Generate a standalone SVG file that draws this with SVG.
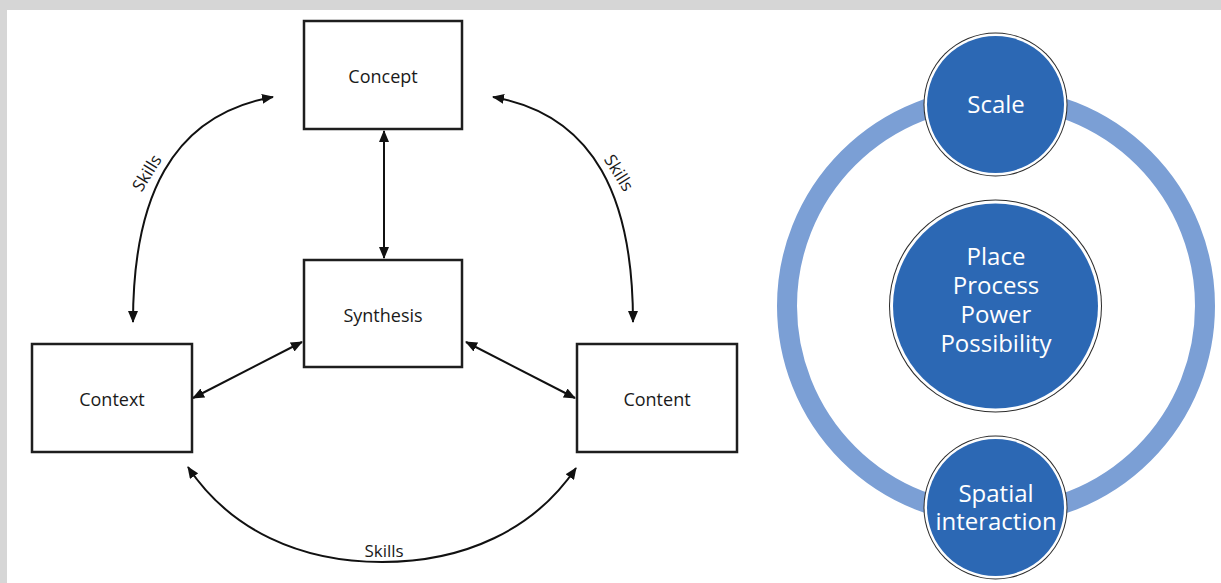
<svg xmlns="http://www.w3.org/2000/svg" width="1221" height="583" viewBox="0 0 1221 583">
<defs>
<marker id="arr" viewBox="0 0 12 10" refX="11" refY="5" markerWidth="12" markerHeight="10" markerUnits="userSpaceOnUse" orient="auto-start-reverse">
<path d="M0,0 L12,5 L0,10 z" fill="#111"/>
</marker>
<style>
.box{fill:#fff;stroke:#1e1e1e;stroke-width:2.5}
.lbl{font-family:"Open Sans","Liberation Sans",sans-serif;font-size:18px;fill:#1a1a1a;text-anchor:middle}
.sk{font-family:"Open Sans","Liberation Sans",sans-serif;font-size:17px;fill:#1a1a1a;text-anchor:middle}
.con{fill:none;stroke:#111;stroke-width:2;marker-start:url(#arr);marker-end:url(#arr)}
.edge{fill:#2a2a2a}
.rim{fill:#fff}
.disc{fill:#2c68b4}
.wt{font-family:"Open Sans","Liberation Sans",sans-serif;font-size:24px;fill:#fff;text-anchor:middle}
</style>
</defs>
<rect x="0" y="0" width="1221" height="583" fill="#fff"/>
<rect x="0" y="0" width="1221" height="10" fill="#d6d6d6"/>
<rect x="0" y="0" width="7" height="583" fill="#d6d6d6"/>

<g id="connectors">
<line class="con" x1="384" y1="131" x2="384" y2="258"/>
<line class="con" x1="193" y1="398" x2="302" y2="342"/>
<line class="con" x1="466" y1="342" x2="575" y2="398"/>
<path class="con" d="M133,322 C133,200 170,115 273,97"/>
<path class="con" d="M633,322 C633,200 596,115 493,97"/>
<path class="con" d="M188,467 C230,530 300,562 382,562 C464,562 534,530 576,468"/>
<text class="sk" transform="translate(152,176) rotate(-58)">Skills</text>
<text class="sk" transform="translate(614,176) rotate(58)">Skills</text>
<text class="sk" x="384" y="557">Skills</text>
</g>

<g id="concept">
<rect class="box" x="304" y="21" width="158" height="108"/>
<text class="lbl" x="383" y="83">Concept</text>
</g>
<g id="synthesis">
<rect class="box" x="304" y="260" width="158" height="107"/>
<text class="lbl" x="383" y="322">Synthesis</text>
</g>
<g id="context">
<rect class="box" x="32" y="344" width="160" height="108"/>
<text class="lbl" x="112" y="406">Context</text>
</g>
<g id="content">
<rect class="box" x="577" y="344" width="160" height="108"/>
<text class="lbl" x="657" y="406">Content</text>
</g>

<g id="ring">
<circle cx="996" cy="306" r="209" fill="none" stroke="#7b9fd5" stroke-width="20"/>
</g>
<g id="scale">
<circle class="edge" cx="995.5" cy="104.5" r="72"/>
<circle class="rim" cx="995.5" cy="104.5" r="71"/>
<circle class="disc" cx="995.5" cy="104.5" r="68.5"/>
<text class="wt" x="996" y="113">Scale</text>
</g>
<g id="center">
<circle class="edge" cx="995.5" cy="306" r="106.5"/>
<circle class="rim" cx="995.5" cy="306" r="105.5"/>
<circle class="disc" cx="995.5" cy="306" r="102.5"/>
<text class="wt" x="996" y="265">Place</text>
<text class="wt" x="996" y="294">Process</text>
<text class="wt" x="996" y="323">Power</text>
<text class="wt" x="996" y="352">Possibility</text>
</g>
<g id="spatial">
<circle class="edge" cx="995.5" cy="507.5" r="72"/>
<circle class="rim" cx="995.5" cy="507.5" r="71"/>
<circle class="disc" cx="995.5" cy="507.5" r="68.5"/>
<text class="wt" x="996" y="502">Spatial</text>
<text class="wt" x="996" y="530">interaction</text>
</g>
</svg>
